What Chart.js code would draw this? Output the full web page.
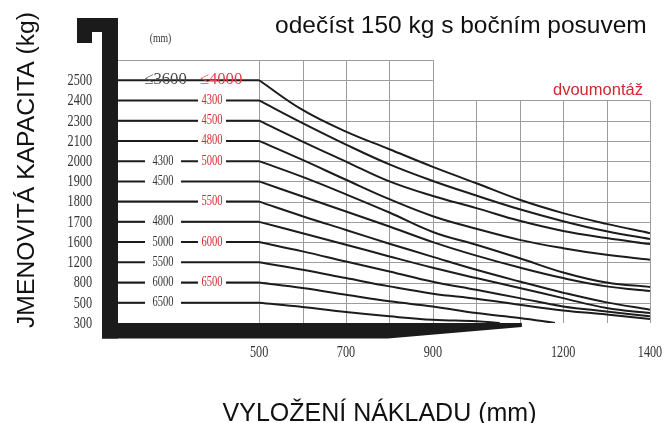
<!DOCTYPE html>
<html><head><meta charset="utf-8">
<script src="https://cdn.jsdelivr.net/npm/chart.js@4.4.1/dist/chart.umd.min.js"></script>
<style>html,body{margin:0;padding:0;background:#fff;}#wrap{width:664px;height:423px;}</style>
</head><body><div id="wrap"><canvas id="c" width="664" height="423"></canvas></div>
<script>
// Rows of the (non-linear) capacity axis, bottom to top; curve values below are in row units
const levelLabels = ['300','500','800','1200','1600','1700','1800','1900','2000','2100','2300','2400','2500'];
const xTickLabels = [500, 700, 900, 1200, 1400];
const reachMm = [500, 600, 700, 800, 900, 1000, 1100, 1200, 1300, 1400];

const curve2500 = [12, 10.53, 9.46, 8.59, 7.72, 6.91, 6.09, 5.43, 4.90, 4.44];
const curve2400 = [11, 9.88, 8.82, 7.84, 7.02, 6.30, 5.62, 5.03, 4.53, 4.15];
const curve2300 = [10, 8.97, 7.98, 7.00, 6.28, 5.68, 5.05, 4.55, 4.20, 3.90];
const curve2100 = [9, 8.06, 7.08, 6.12, 5.28, 4.66, 4.11, 3.70, 3.37, 3.13];
const curve2000 = [8, 7.22, 6.36, 5.46, 4.50, 3.87, 3.20, 2.50, 2.00, 1.78];
const curve1900 = [7, 6.25, 5.51, 4.77, 4.00, 3.33, 2.74, 2.22, 1.81, 1.58];
const curve1800 = [6, 5.28, 4.60, 3.92, 3.27, 2.63, 2.05, 1.50, 1.02, 0.66];
const curve1700 = [5, 4.44, 3.87, 3.29, 2.73, 2.22, 1.73, 1.23, 0.74, 0.49];
const curve1600 = [4, 3.54, 3.04, 2.55, 2.04, 1.64, 1.23, 0.82, 0.57, 0.33];
const curve1200 = [3, 2.63, 2.22, 1.81, 1.45, 1.20, 0.90, 0.62, 0.42, 0.20];
const curve800  = [2, 1.73, 1.40, 1.07, 0.82, 0.49, 0.25];
const curve500  = [1, 0.79, 0.54, 0.33, 0.16, 0.09];
const end800 = 1181;
const end500 = 1054;

// mast-height labels per row (index = row)
const blackMarks = ['', '6500', '6000', '5500', '5000', '4800', '', '4500', '4300', '', '', '', '≤3600'];
const redMarks   = ['', '', '6500', '', '6000', '', '5500', '', '5000', '4800', '4500', '4300', '≤4000'];

const titleText = 'odečíst 150 kg s bočním posuvem';
const noteText = 'dvoumontáž';
const unitText = '(mm)';
const xTitle = 'VYLOŽENÍ NÁKLADU (mm)';
const yTitle = 'JMENOVITÁ KAPACITA (kg)';

const X_MIN = 175, X_MAX = 1400, Y_MAX = 13;
const LINE = '#1c1c1c', RED = '#d42630', BAR = '#1b1b1b';

const curves = [curve2500, curve2400, curve2300, curve2100, curve2000, curve1900,
                curve1800, curve1700, curve1600, curve1200, curve800, curve500];
const ends = [null, null, null, null, null, null, null, null, null, null, end800, end500];

const datasets = [];
curves.forEach((c, i) => {
  datasets.push({
    data: [{x: X_MIN, y: c[0]}, {x: reachMm[0], y: c[0]}],
    borderColor: LINE, borderWidth: 2, pointRadius: 0, tension: 0
  });
  const pts = c.map((v, j) => ({x: reachMm[j], y: v}));
  if (ends[i] !== null) pts.push({x: ends[i], y: 0});
  datasets.push({
    data: pts, borderColor: LINE, borderWidth: 2, pointRadius: 0, tension: 0.4
  });
});

function condText(ctx, text, x, y, align, size, sx, color) {
  ctx.save();
  ctx.translate(x, y);
  ctx.scale(sx, 1);
  ctx.font = size + 'px "Liberation Serif", "Times New Roman", serif';
  ctx.fillStyle = color;
  ctx.textAlign = align;
  ctx.textBaseline = 'middle';
  ctx.fillText(text, 0, 0);
  ctx.restore();
}
function condWidth(ctx, text, size, sx) {
  ctx.save();
  ctx.font = size + 'px "Liberation Serif", "Times New Roman", serif';
  const w = ctx.measureText(text).width * sx;
  ctx.restore();
  return w;
}

const gridPlugin = {
  id: 'grid',
  beforeDatasetsDraw(chart) {
    const ctx = chart.ctx, xs = chart.scales.x, ys = chart.scales.y, ca = chart.chartArea;
    ctx.save();
    ctx.strokeStyle = '#9c9c9c';
    ctx.lineWidth = 1;
    for (let l = 1; l <= Y_MAX; l++) {
      const py = Math.round(ys.getPixelForValue(l)) + 0.5;
      const xr = l >= 12 ? xs.getPixelForValue(900) : xs.getPixelForValue(1400);
      ctx.beginPath(); ctx.moveTo(ca.left, py); ctx.lineTo(xr, py); ctx.stroke();
    }
    reachMm.forEach(v => {
      const px = Math.round(xs.getPixelForValue(v)) + 0.5;
      const top = v <= 900 ? ys.getPixelForValue(Y_MAX) : ys.getPixelForValue(11);
      ctx.beginPath(); ctx.moveTo(px, top); ctx.lineTo(px, ca.bottom); ctx.stroke();
    });
    ctx.restore();
  },
  afterDatasetsDraw(chart) {
    const ctx = chart.ctx, xs = chart.scales.x, ys = chart.scales.y, ca = chart.chartArea;
    for (let l = 1; l < levelLabels.length; l++) {
      const py = ys.getPixelForValue(l);
      const top = l === 12;
      const size = top ? 17 : 15, sx = top ? 0.98 : 0.7;
      const items = [
        [blackMarks[l], top ? ca.left + 47.5 : ca.left + 45, top ? '#4a4a4a' : '#333', 7.5],
        [redMarks[l], top ? ca.left + 103 : ca.left + 94, top ? '#e0404a' : RED, 3.5]
      ];
      items.forEach(([t, cx, col, pad]) => {
        if (!t) return;
        if (!top) {
          const w = condWidth(ctx, t, size, sx);
          ctx.fillStyle = '#fff';
          ctx.fillRect(cx - w / 2 - pad, py - 4, w + 2 * pad, 8);
        }
        condText(ctx, t, cx, py - 0.5, 'center', size, sx, col);
      });
    }
    ctx.save();
    ctx.fillStyle = BAR;
    ctx.fillRect(ca.left - 16, ca.top - 42, 16, ca.bottom + 15.5 - (ca.top - 42));
    ctx.fillRect(ca.left - 41, ca.top - 42, 41, 14);
    ctx.fillRect(ca.left - 41, ca.top - 42, 15, 25);
    const tip = xs.getPixelForValue(1105), diag = xs.getPixelForValue(796);
    ctx.beginPath();
    ctx.moveTo(ca.left - 16, ca.bottom);
    ctx.lineTo(tip, ca.bottom);
    ctx.lineTo(tip, ca.bottom + 4);
    ctx.lineTo(diag, ca.bottom + 15.5);
    ctx.lineTo(ca.left - 16, ca.bottom + 15.5);
    ctx.closePath();
    ctx.fill();
    ctx.restore();
  },
  afterDraw(chart) {
    const ctx = chart.ctx, xs = chart.scales.x, ys = chart.scales.y, ca = chart.chartArea;
    ys.ticks.forEach(t => {
      condText(ctx, levelLabels[t.value], ca.left - 26, ys.getPixelForValue(t.value) + 0.5, 'right', 16.5, 0.74, '#333');
    });
    xs.ticks.forEach(t => {
      if (!xTickLabels.includes(t.value)) return;
      condText(ctx, String(t.value), xs.getPixelForValue(t.value), ca.bottom + 29.5, 'center', 16.5, 0.74, '#333');
    });
    condText(ctx, unitText, ca.left + 42.5, ca.top - 21, 'center', 13, 0.75, '#333');
    ctx.save();
    ctx.fillStyle = '#111';
    ctx.textBaseline = 'alphabetic';
    ctx.font = '24.5px "Liberation Sans", Arial, sans-serif';
    ctx.textAlign = 'left';
    ctx.fillText(titleText, 275, 33);
    ctx.fillStyle = RED;
    ctx.font = '16.5px "Liberation Sans", Arial, sans-serif';
    ctx.fillText(noteText, 553, 94.5);
    ctx.fillStyle = '#111';
    ctx.font = '25px "Liberation Sans", Arial, sans-serif';
    ctx.textAlign = 'center';
    ctx.fillText(xTitle, 379.5, 421);
    ctx.translate(33.5, 170);
    ctx.rotate(-Math.PI / 2);
    ctx.font = '24.7px "Liberation Sans", Arial, sans-serif';
    ctx.fillText(yTitle, 0, 0);
    ctx.restore();
  }
};

new Chart(document.getElementById('c'), {
  type: 'line',
  data: {datasets},
  options: {
    responsive: false,
    animation: false,
    devicePixelRatio: 1,
    layout: {padding: {left: 118, right: 14, top: 60, bottom: 100}},
    plugins: {legend: {display: false}, tooltip: {enabled: false}, title: {display: false}},
    scales: {
      x: {
        type: 'linear', min: X_MIN, max: X_MAX,
        grid: {display: false}, border: {display: false}, ticks: {display: false},
        afterBuildTicks: s => { s.ticks = reachMm.map(v => ({value: v})); },
        afterFit: s => { s.height = 0; }
      },
      y: {
        type: 'linear', min: 0, max: Y_MAX,
        grid: {display: false}, border: {display: false}, ticks: {display: false},
        afterBuildTicks: s => { s.ticks = levelLabels.map((l, i) => ({value: i})); },
        afterFit: s => { s.width = 0; }
      }
    }
  },
  plugins: [gridPlugin]
});
</script>
</body></html>
